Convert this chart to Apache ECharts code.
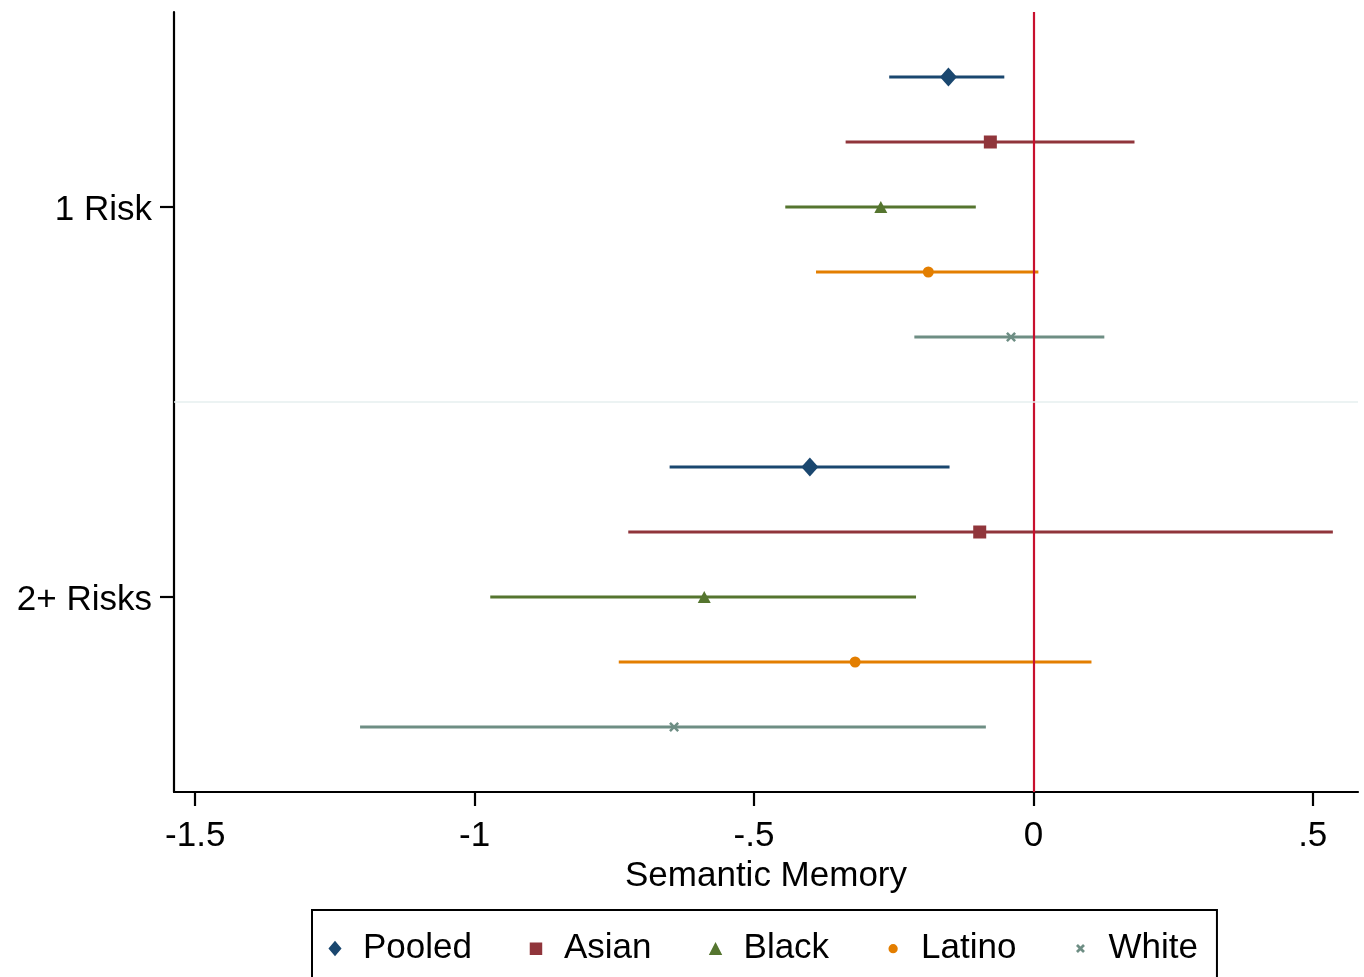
<!DOCTYPE html>
<html>
<head>
<meta charset="utf-8">
<script src="https://cdn.jsdelivr.net/npm/echarts@6/dist/echarts.min.js"></script>
<style>
html,body{margin:0;padding:0;background:#fff;}
#chart{width:1364px;height:977px;}
</style>
</head>
<body>
<div id="chart"></div>
<script>
// ---- data ----
var groups = ['Pooled', 'Asian', 'Black', 'Latino', 'White'];
var riskLabels = ['1 Risk', '2+ Risks'];
var xTickValues = [-1.5, -1, -0.5, 0, 0.5];
var xTickLabels = ['-1.5', '-1', '-.5', '0', '.5'];
var xTitle = 'Semantic Memory';
// estimates [1 Risk, 2+ Risks]
var pooledEst = [-0.152, -0.400];
var pooledLo  = [-0.258, -0.651];
var pooledHi  = [-0.052, -0.150];
var asianEst  = [-0.077, -0.096];
var asianLo   = [-0.336, -0.725];
var asianHi   = [0.181, 0.536];
var blackEst  = [-0.273, -0.589];
var blackLo   = [-0.444, -0.972];
var blackHi   = [-0.103, -0.210];
var latinoEst = [-0.188, -0.319];
var latinoLo  = [-0.389, -0.742];
var latinoHi  = [0.009, 0.104];
var whiteEst  = [-0.040, -0.643];
var whiteLo   = [-0.213, -1.205];
var whiteHi   = [0.127, -0.085];

var est = [pooledEst, asianEst, blackEst, latinoEst, whiteEst];
var lo  = [pooledLo, asianLo, blackLo, latinoLo, whiteLo];
var hi  = [pooledHi, asianHi, blackHi, latinoHi, whiteHi];

// ---- styling ----
var colors = ['#1a476f', '#90353b', '#55752f', '#e37e00', '#6e8e84'];
var xPath = 'path://M0,0.18 L0.18,0 L0.5,0.32 L0.82,0 L1,0.18 L0.68,0.5 L1,0.82 L0.82,1 L0.5,0.68 L0.18,1 L0,0.82 L0.32,0.5 Z';
var symbols = ['diamond', 'rect', 'triangle', 'circle', xPath];
var symbolSizes = [[17, 19], 13, [13, 12], 11, 10];
// tiny corner sub-paths fix each icon's bounding box to the unit square
var bbox = ' M0,0 L0.001,0 L0,0.001 Z M1,1 L0.999,1 L1,0.999 Z';
var legendIcons = [
  'path://M0.5,0.02 L0.91,0.5 L0.5,0.98 L0.09,0.5 Z' + bbox,
  'path://M0.11,0.12 L0.89,0.12 L0.89,0.9 L0.11,0.9 Z' + bbox,
  'path://M0.5,0.1 L0.92,0.9 L0.08,0.9 Z' + bbox,
  'path://M0.5,0.22 A0.29,0.29 0 1,1 0.4999,0.22 Z' + bbox,
  'path://M0.22,0.34 L0.34,0.22 L0.5,0.38 L0.66,0.22 L0.78,0.34 L0.62,0.5 L0.78,0.66 L0.66,0.78 L0.5,0.62 L0.34,0.78 L0.22,0.66 L0.38,0.5 Z' + bbox
];
var font = 'Liberation Sans, Arial, sans-serif';

// rows: group g in risk r at position r*6 + g + 1
function rowOf(r, g) { return r * 6 + g + 1; }
var yTickValues = [3, 9];

var series = [];
groups.forEach(function (name, g) {
  var ciData = [];
  var ptData = [];
  for (var r = 0; r < riskLabels.length; r++) {
    ciData.push([lo[g][r], hi[g][r], rowOf(r, g)]);
    ptData.push([est[g][r], rowOf(r, g)]);
  }
  series.push({
    type: 'custom',
    name: name + ' CI',
    silent: true,
    z: 3,
    encode: { x: [0, 1], y: 2 },
    data: ciData,
    renderItem: function (params, api) {
      var a = api.coord([api.value(0), api.value(2)]);
      var b = api.coord([api.value(1), api.value(2)]);
      return {
        type: 'line',
        shape: { x1: a[0], y1: a[1], x2: b[0], y2: b[1] },
        style: { stroke: colors[g], lineWidth: 2.8 }
      };
    }
  });
  series.push({
    type: 'scatter',
    name: name,
    z: 5,
    symbol: symbols[g],
    symbolSize: symbolSizes[g],
    itemStyle: { color: colors[g], opacity: 1 },
    data: ptData
  });
});

// reference lines
series.push({
  type: 'scatter',
  name: 'ref',
  data: [],
  silent: true,
  markLine: {
    silent: true,
    symbol: 'none',
    label: { show: false },
    animation: false,
    data: [
      { xAxis: 0, lineStyle: { color: '#c8102e', width: 2.2, type: 'solid' } },
      { yAxis: 6, lineStyle: { color: '#e6efef', width: 1.5, type: 'solid' } }
    ]
  }
});

var chart = echarts.init(document.getElementById('chart'), null, { renderer: 'canvas' });
chart.setOption({
  animation: false,
  backgroundColor: '#ffffff',
  grid: { left: 174, right: 6, top: 12, bottom: 185, containLabel: false },
  xAxis: {
    type: 'value',
    min: -1.538,
    max: 0.581,
    name: xTitle,
    nameLocation: 'middle',
    nameGap: 58,
    nameTextStyle: { color: '#000', fontSize: 35, fontFamily: font },
    axisLine: { show: true, onZero: false, lineStyle: { color: '#000', width: 2.2 } },
    axisTick: { show: true, length: 14, lineStyle: { color: '#000', width: 2.2 }, customValues: xTickValues },
    axisLabel: {
      show: true, color: '#000', fontSize: 35, fontFamily: font, margin: 27,
      customValues: xTickValues,
      formatter: function (v) {
        for (var i = 0; i < xTickValues.length; i++) {
          if (Math.abs(xTickValues[i] - v) < 1e-9) return xTickLabels[i];
        }
        return '';
      }
    },
    splitLine: { show: false }
  },
  yAxis: {
    type: 'value',
    min: 0,
    max: 12,
    inverse: true,
    axisLine: { show: true, onZero: false, lineStyle: { color: '#000', width: 2.2 } },
    axisTick: { show: true, length: 14, lineStyle: { color: '#000', width: 2.2 }, customValues: yTickValues },
    axisLabel: {
      show: true, color: '#000', fontSize: 35, fontFamily: font, margin: 22,
      customValues: yTickValues,
      formatter: function (v) {
        var i = yTickValues.indexOf(v);
        return i >= 0 ? '{a|' + riskLabels[i] + '}' : '';
      },
      rich: { a: { fontSize: 35, fontFamily: font, color: '#000', padding: [6, 0, 0, 0] } }
    },
    splitLine: { show: false }
  },
  legend: {
    left: 312,
    top: 910,
    orient: 'horizontal',
    borderColor: '#000',
    borderWidth: 2,
    padding: [21, 19, 20, 15],
    itemWidth: 30,
    itemHeight: 16,
    itemGap: 56,
    textStyle: { color: '#000', fontSize: 35, fontFamily: font, padding: [0, 0, 0, 8] },
    data: groups.map(function (n, g) {
      return { name: n, icon: legendIcons[g], itemStyle: { color: colors[g] } };
    })
  },
  series: series
});
</script>
</body>
</html>
